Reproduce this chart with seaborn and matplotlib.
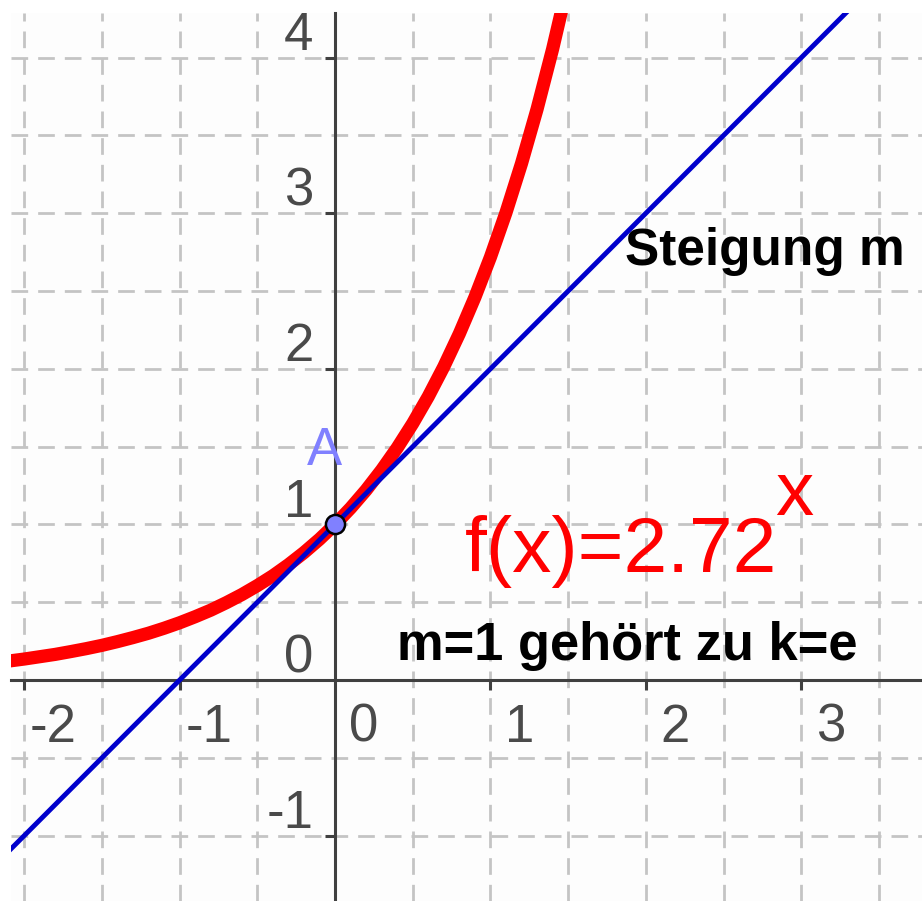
import numpy as np
import matplotlib
matplotlib.use("Agg")
import matplotlib.pyplot as plt
import seaborn as sns

# Exponential curve (f(x) = 2.72^x)
curve_x = [-2.1, -2.0, -1.9, -1.8, -1.7, -1.6, -1.5, -1.4, -1.3, -1.2, -1.1,
           -1.0, -0.9, -0.8, -0.7, -0.6, -0.5, -0.4, -0.3, -0.2, -0.1, 0.0,
           0.1, 0.2, 0.3, 0.4, 0.5, 0.6, 0.7, 0.8, 0.9, 1.0, 1.1, 1.2, 1.3,
           1.4, 1.5]
curve_y = [0.122, 0.135, 0.150, 0.165, 0.183, 0.202, 0.223, 0.247, 0.273,
           0.301, 0.333, 0.368, 0.407, 0.449, 0.497, 0.549, 0.607, 0.670,
           0.741, 0.819, 0.905, 1.000, 1.105, 1.221, 1.350, 1.492, 1.649,
           1.822, 2.014, 2.226, 2.460, 2.718, 3.004, 3.320, 3.669, 4.055,
           4.482]

# Tangent at A (slope m = 1)
tangent_x = [-2.2, 3.4]
tangent_y = [-1.2, 4.4]

point_a_x = [0]
point_a_y = [1]

x_ticks = [-2, -1, 0, 1, 2, 3]
y_ticks = [-1, 0, 1, 2, 3, 4]

sns.set_theme(style="white")
plt.rcParams["font.family"] = ["Liberation Sans", "DejaVu Sans"]

fig = plt.figure(figsize=(9.22, 9.01), dpi=100)
ax = fig.add_axes([11 / 922, 0, 911 / 922, 888 / 901])
ax.set_facecolor("#fdfdfd")
ax.set_xlim(-2.085, 3.777)
ax.set_ylim(-1.42, 4.287)

# dashed grid every half unit
ax.set_xticks(np.arange(-2, 4, 0.5), minor=True)
ax.set_yticks(np.arange(-1, 4.5, 0.5), minor=True)
ax.set_xticks([t for t in x_ticks if t != 0])
ax.set_yticks([t for t in y_ticks if t != 0])
ax.grid(which="both", color="#c4c4c4", linewidth=2, linestyle=(0, (6, 3.6)))
ax.set_axisbelow(True)

# axes through the origin
for side in ["top", "right"]:
    ax.spines[side].set_visible(False)
for side in ["left", "bottom"]:
    ax.spines[side].set_position(("data", 0))
    ax.spines[side].set_color("#404040")
    ax.spines[side].set_linewidth(2.2)
ax.tick_params(which="major", direction="out", length=7, width=2.2,
               color="#404040", bottom=True, left=True,
               labelbottom=False, labelleft=False)
ax.tick_params(which="minor", length=0)

for t in x_ticks:
    ax.text(t + 0.187, -0.398, str(t), fontsize=38, color="#4a4a4a",
            ha="center", va="baseline")
for t in y_ticks:
    ax.text(-0.14, t + 0.05, str(t), fontsize=38, color="#4a4a4a",
            ha="right", va="baseline")

sns.lineplot(x=curve_x, y=curve_y, ax=ax, color="#ff0000", linewidth=9.5,
             zorder=3)
sns.lineplot(x=tangent_x, y=tangent_y, ax=ax, color="#0000cc", linewidth=3.5,
             zorder=4)
sns.scatterplot(x=point_a_x, y=point_a_y, ax=ax, s=190, color="#8080ff",
                edgecolor="black", linewidth=1.8, zorder=5)

ax.text(-0.07, 1.382, "A", fontsize=38, color="#8080ff", ha="center",
        va="baseline")
ax.text(1.866, 2.667, "Steigung m", fontsize=37, fontweight="bold",
        color="black", ha="left", va="baseline")
ax.text(0.399, 0.1285, "m=1 gehört zu k=e", fontsize=37.8, fontweight="bold",
        color="black", ha="left", va="baseline")
ax.text(0.8366, 0.694, "f(x)=2.72", fontsize=56.5, color="#ff0000",
        ha="left", va="baseline")
ax.text(2.831, 1.06, "x", fontsize=55, color="#ff0000", ha="left",
        va="baseline")

ax.set_xlabel("")
ax.set_ylabel("")
fig.savefig("out.png", dpi=100, facecolor="white")
